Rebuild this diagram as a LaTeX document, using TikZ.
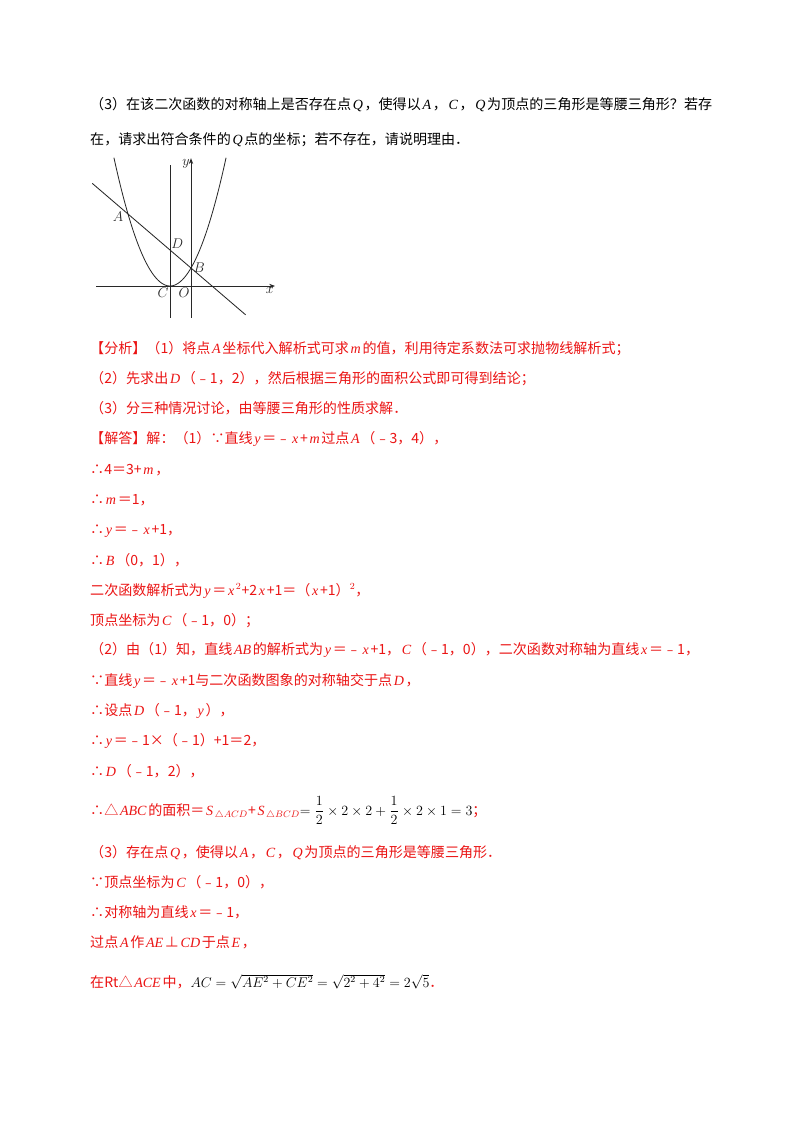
\documentclass[tikz,border=0pt]{standalone}
\usepackage{amsmath}
\usepackage{fontspec}
\setmainfont{Liberation Serif}
\newfontfamily\cjk{Noto Sans CJK SC}
\usetikzlibrary{arrows.meta}
\definecolor{ansred}{RGB}{235,20,20}
\definecolor{figgray}{RGB}{40,40,40}
\newcommand\vi[1]{\hspace{0.12em}{\normalfont\itshape #1}\hspace{0.12em}}
\tikzset{
  txt/.style={anchor=base west, inner sep=0pt, font=\cjk\fontsize{12}{14}\selectfont},
  ans/.style={txt, text=ansred},
  lbl/.style={font=\normalfont\itshape\fontsize{12}{14}\selectfont, text=figgray, inner sep=1pt},
  fig/.style={figgray, line width=0.7pt}
}
\begin{document}
\begin{tikzpicture}[x=0.03cm,y=-0.03cm]
  \useasboundingbox[fill=white] (0,0) rectangle (800,1132);

  % question
  \node[txt] (q1) at (90,110) {（3）在该二次函数的对称轴上是否存在点\vi{Q}，使得以\vi{A}，\vi{C}，\vi{Q}为顶点的三角形是等腰三角形？若存};
  \node[txt] (q2) at (90,145) {在，请求出符合条件的\vi{Q}点的坐标；若不存在，请说明理由．};

  % figure
  \begin{scope}[shift={(191,286)}, x={(0.63cm,0)}, y={(0,0.54cm)}]
    \draw[fig, -{Stealth[length=5pt]}] (-4.5,0) -- (4,0) coordinate (xend);
    \draw[fig, -{Stealth[length=5pt]}] (0,-1.75) -- (0,7.1) coordinate (yend);
    \draw[fig] (-1,-1.75) -- (-1,6.7);
    \draw[fig, domain=-3.67:1.67, samples=60] plot (\x, {(\x+1)*(\x+1)});
    \draw[fig] (-4.7,5.7) -- (2.6,-1.6);
    \coordinate (A) at (-3,4);
    \coordinate (B) at (0,1);
    \coordinate (C) at (-1,0);
    \coordinate (D) at (-1,2);
    \node[lbl, anchor=north east] at (xend) {$x$};
    \node[lbl, anchor=north east] at (yend) {$y$};
    \node[lbl, anchor=east] at ([xshift=-3pt,yshift=-2pt]A) {$A$};
    \node[lbl, anchor=south west] at (D) {$D$};
    \node[lbl, anchor=west] at ([xshift=1pt]B) {$B$};
    \node[lbl, anchor=north east] at (C) {$C$};
    \node[lbl, anchor=north east] at (0,0) {$O$};
  \end{scope}

  % analysis
  \node[ans] (a1) at (90,353) {【分析】（1）将点\vi{A}坐标代入解析式可求\vi{m}的值，利用待定系数法可求抛物线解析式；};
  \node[ans] (a2) at (90,383) {（2）先求出\vi{D}（﹣1，2），然后根据三角形的面积公式即可得到结论；};
  \node[ans] (a3) at (90,413) {（3）分三种情况讨论，由等腰三角形的性质求解．};

  % solution
  \node[ans] (s1) at (90,443) {【解答】解：（1）∵直线\vi{y}＝﹣\vi{x}+\vi{m}过点\vi{A}（﹣3，4），};
  \node[ans] (s2) at (90,474) {∴4＝3+\vi{m}，};
  \node[ans] (s3) at (90,504) {∴\vi{m}＝1，};
  \node[ans] (s4) at (90,534) {∴\vi{y}＝﹣\vi{x}+1，};
  \node[ans] (s5) at (90,565) {∴\vi{B}（0，1），};
  \node[ans] (s6) at (90,595) {二次函数解析式为\vi{y}＝\vi{x}$^2$+2\vi{x}+1＝（\vi{x}+1）$^2$，};
  \node[ans] (s7) at (90,625) {顶点坐标为\vi{C}（﹣1，0）；};
  \node[ans] (s8) at (90,654) {（2）由（1）知，直线\vi{AB}的解析式为\vi{y}＝﹣\vi{x}+1，\vi{C}（﹣1，0），二次函数对称轴为直线\vi{x}＝﹣1，};
  \node[ans] (s9) at (90,685) {∵直线\vi{y}＝﹣\vi{x}+1与二次函数图象的对称轴交于点\vi{D}，};
  \node[ans] (s10) at (90,715) {∴设点\vi{D}（﹣1，\vi{y}），};
  \node[ans] (s11) at (90,745) {∴\vi{y}＝﹣1×（﹣1）+1＝2，};
  \node[ans] (s12) at (90,776) {∴\vi{D}（﹣1，2），};
  \node[ans] (s13) at (90,815) {∴△\vi{ABC}的面积＝\vi{S}$_{\triangle ACD}$+\vi{S}$_{\triangle BCD}$\textcolor{black}{$=\dfrac12\times2\times2+\dfrac12\times2\times1=3$}；};
  \node[ans] (s14) at (90,857) {（3）存在点\vi{Q}，使得以\vi{A}，\vi{C}，\vi{Q}为顶点的三角形是等腰三角形．};
  \node[ans] (s15) at (90,887) {∵顶点坐标为\vi{C}（﹣1，0），};
  \node[ans] (s16) at (90,917) {∴对称轴为直线\vi{x}＝﹣1，};
  \node[ans] (s17) at (90,947) {过点\vi{A}作\vi{AE}⊥\vi{CD}于点\vi{E}，};
  \node[ans] (s18) at (90,987) {在Rt△\vi{ACE}中，\textcolor{black}{$AC=\sqrt{AE^2+CE^2}=\sqrt{2^2+4^2}=2\sqrt5$}．};
\end{tikzpicture}
\end{document}
